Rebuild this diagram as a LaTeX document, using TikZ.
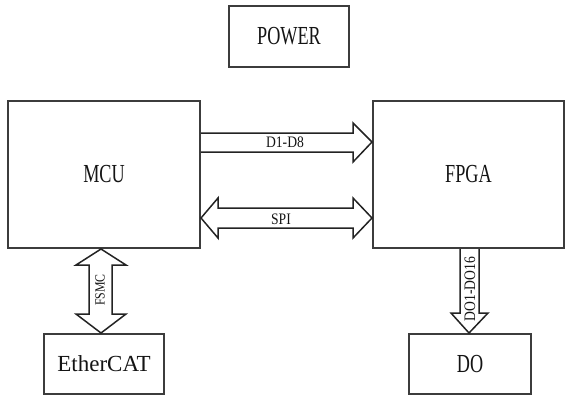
\documentclass[tikz,border=0pt]{standalone}
\usepackage{fontspec}
\setmainfont{Liberation Serif}
\newfontfamily\condf[FakeStretch=0.7]{Liberation Serif}
\newfontfamily\labf[FakeStretch=0.85]{Liberation Serif}
\usetikzlibrary{calc}
\definecolor{boxgray}{RGB}{60,60,60}
\definecolor{linegray}{RGB}{35,35,35}
\definecolor{txt}{RGB}{20,20,20}
\begin{document}
\begin{tikzpicture}[x=1pt,y=-1pt,
  box/.style={draw=boxgray,line width=2pt,inner sep=0pt,anchor=north west,text=txt},
  big/.style={font=\condf\fontsize{26}{26}\selectfont},
  mid/.style={font=\fontsize{23}{23}\selectfont},
  fat/.style={draw=linegray,line width=1.5pt,line join=miter},
  lab/.style={font=\labf\fontsize{16}{16}\selectfont,text=txt,inner sep=0pt}]
\useasboundingbox (0,0) rectangle (572,400);
\node[box,big,minimum width=120pt,minimum height=61pt] (power) at (228,5) {POWER};
\node[box,big,minimum width=192pt,minimum height=147pt] (mcu) at (7,100) {MCU};
\node[box,big,minimum width=191pt,minimum height=147pt] (fpga) at (372,100) {FPGA};
\node[box,mid,minimum width=120pt,minimum height=60pt] (ecat) at (43,333) {EtherCAT};
\node[box,big,minimum width=122pt,minimum height=60pt] (do) at (408,333) {DO};
% D1-D8
\draw[fat] (mcu.east |- 0,133) -- (353,133) -- (353,123) -- (fpga.west |- 0,142)
  -- (353,162) -- (353,152) -- (mcu.east |- 0,152);
\node[lab] (d18) at (285,142) {D1-D8};
% SPI
\draw[fat] (mcu.east |- 0,218) -- (218,198) -- (218,208) -- (353,208) -- (353,198)
  -- (fpga.west |- 0,218) -- (353,238) -- (353,228) -- (218,228) -- (218,238) -- cycle;
\node[lab] (spi) at (281,219) {SPI};
% FSMC
\draw[fat] (101,0 |- mcu.south) -- (76,265) -- (89,265) -- (89,314) -- (76,314)
  -- (101,0 |- ecat.north) -- (126,314) -- (112,314) -- (112,265) -- (126,265) -- cycle;
\node[lab,font=\labf\fontsize{14}{14}\selectfont,rotate=90] (fsmc) at (100,290) {FSMC};
% DO1-DO16
\draw[fat] (460,0 |- fpga.south) -- (460,313) -- (451,313) -- (469,0 |- do.north)
  -- (488,313) -- (479,313) -- (479,0 |- fpga.south);
\node[lab,font=\labf\fontsize{16}{16}\selectfont,rotate=90] (dolab) at (470,289) {DO1-DO16};
\end{tikzpicture}
\end{document}
